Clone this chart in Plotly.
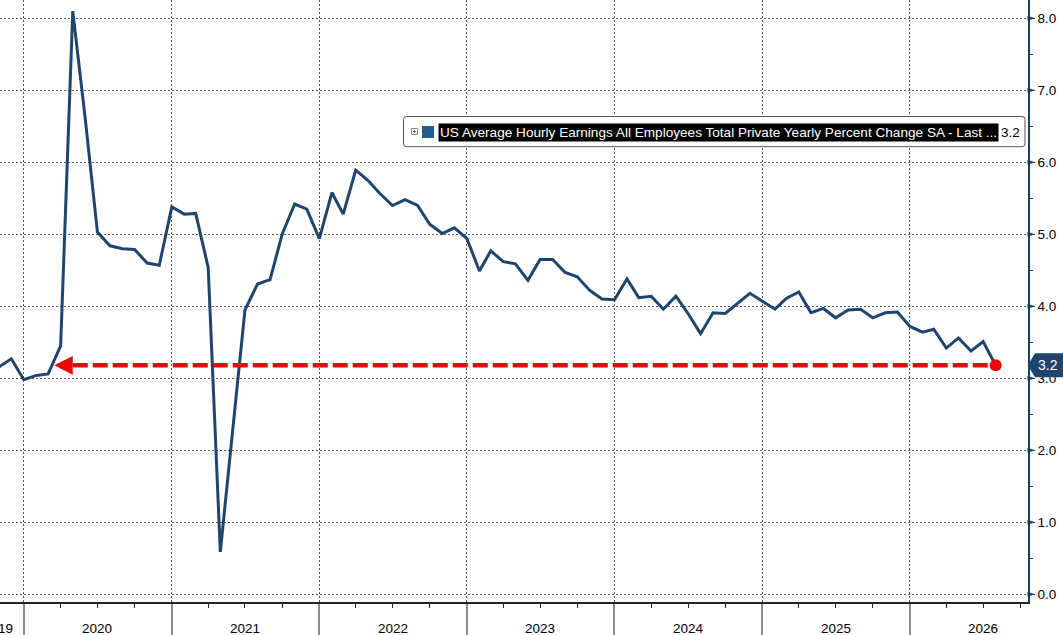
import plotly.graph_objects as go
import pandas as pd

# ---------------- data ----------------
start_month = "2019-11-01"
values = [
    3.16, 3.27,
    2.98, 3.04, 3.06, 3.45, 8.10, 6.60, 5.03, 4.84, 4.80, 4.79, 4.60, 4.57,
    5.38, 5.28, 5.29, 4.54, 0.59, 2.30, 3.95, 4.31, 4.37, 5.00, 5.42, 5.35,
    4.94, 5.58, 5.28, 5.89, 5.75, 5.56, 5.40, 5.48, 5.40, 5.14, 5.01, 5.09,
    4.94, 4.49, 4.77, 4.62, 4.59, 4.36, 4.65, 4.65, 4.47, 4.41, 4.22, 4.10,
    4.09, 4.38, 4.12, 4.14, 3.96, 4.14, 3.90, 3.62, 3.91, 3.90, 4.04, 4.18,
    4.07, 3.96, 4.11, 4.20, 3.91, 3.97, 3.84, 3.95, 3.96, 3.84, 3.91, 3.92,
    3.72, 3.64, 3.68, 3.42, 3.56, 3.38, 3.51, 3.18,
]
dates = pd.date_range(start_month, periods=len(values), freq="MS")
year_labels = ["2020", "2021", "2022", "2023", "2024", "2025", "2026"]
y_ticks = [0, 1, 2, 3, 4, 5, 6, 7, 8]
series_name = "US Average Hourly Earnings All Employees Total Private Yearly Percent Change SA - Last ..."
last_label = "3.2"
arrow_tip_date = "2020-03-16"
dash_start_date = "2020-05-01"

# ---------------- style ----------------
LINE_COLOR = "#1d456e"
RED = "#e8080b"
FONT = "Liberation Sans, Arial, sans-serif"
W, H = 1063, 635
ML, MR, MT, MB = 0, 35, 0, 33
PW, PH = W - ML - MR, H - MT - MB


def px(x):
    return (x - ML) / PW


def py(y):
    return 1 - (y - MT) / PH


last_val = values[-1]
last_date = dates[-1]

fig = go.Figure()

fig.add_trace(go.Scatter(
    x=dates, y=values, mode="lines",
    line=dict(color=LINE_COLOR, width=3), hoverinfo="skip", showlegend=False,
))

# red dashed reference line back to the arrow
fig.add_trace(go.Scatter(
    x=[pd.Timestamp(dash_start_date), last_date], y=[last_val, last_val], mode="lines",
    line=dict(color=RED, width=4.5, dash="15px,5px"), showlegend=False, hoverinfo="skip",
))
fig.add_trace(go.Scatter(
    x=[last_date], y=[last_val], mode="markers",
    marker=dict(color=RED, size=12), showlegend=False, hoverinfo="skip",
))

shapes = []
annotations = []

# arrow head (triangle) pointing left
h = 9.3 / 72
shapes.append(dict(
    type="path", xref="x", yref="y",
    path=f"M {arrow_tip_date},{last_val} L {dash_start_date},{last_val + h} "
         f"L {dash_start_date},{last_val - h} Z",
    fillcolor=RED, line=dict(width=0), layer="above",
))

# arrow-shaped major ticks on the right axis
for t in y_ticks:
    hh = 2.5 / 72
    shapes.append(dict(
        type="path", xref="paper", yref="y",
        path=f"M {px(1027.5)} {t + hh} L {px(1035)} {t} L {px(1027.5)} {t - hh} Z",
        fillcolor="#1c3f66", line=dict(width=0),
    ))

# last value tag on right axis
th = 12 / 72
shapes.append(dict(
    type="path", xref="paper", yref="y",
    path=f"M {px(1027.7)} {last_val} L {px(1035)} {last_val + th} L {px(1070)} {last_val + th} "
         f"L {px(1070)} {last_val - th} L {px(1035)} {last_val - th} Z",
    fillcolor="#1d456e", line=dict(width=0),
))
annotations.append(dict(
    xref="paper", yref="y", x=px(1035.5), y=last_val, xanchor="left", yanchor="middle",
    text=last_label, showarrow=False, font=dict(family=FONT, size=14, color="white"),
))

# legend box
x0, x1, y0, y1, r = 403.5, 1025, 116.5, 146.7, 3
shapes.append(dict(
    type="path", xref="paper", yref="paper",
    path=(f"M {px(x0 + r)} {py(y0)} L {px(x1 - r)} {py(y0)} Q {px(x1)} {py(y0)} {px(x1)} {py(y0 + r)} "
          f"L {px(x1)} {py(y1 - r)} Q {px(x1)} {py(y1)} {px(x1 - r)} {py(y1)} "
          f"L {px(x0 + r)} {py(y1)} Q {px(x0)} {py(y1)} {px(x0)} {py(y1 - r)} "
          f"L {px(x0)} {py(y0 + r)} Q {px(x0)} {py(y0)} {px(x0 + r)} {py(y0)} Z"),
    fillcolor="white", line=dict(color="#555555", width=1),
))
# expand icon
shapes.append(dict(type="rect", xref="paper", yref="paper",
                   x0=px(411.5), x1=px(417.5), y0=py(128.5), y1=py(134.5),
                   line=dict(color="#8a8a8a", width=1), fillcolor="white"))
shapes.append(dict(type="line", xref="paper", yref="paper",
                   x0=px(413), x1=px(416), y0=py(131.5), y1=py(131.5),
                   line=dict(color="#666666", width=1)))
shapes.append(dict(type="line", xref="paper", yref="paper",
                   x0=px(414.5), x1=px(414.5), y0=py(130), y1=py(133),
                   line=dict(color="#666666", width=1)))
# color swatch
shapes.append(dict(type="rect", xref="paper", yref="paper",
                   x0=px(422), x1=px(434), y0=py(126), y1=py(138),
                   fillcolor="#245a8e", line=dict(width=0)))
annotations.append(dict(
    xref="paper", yref="paper", x=px(437.5), y=py(132.5), xanchor="left", yanchor="middle",
    text=series_name, showarrow=False, bgcolor="black", borderpad=1,
    font=dict(family=FONT, size=13.6, color="white"),
))
annotations.append(dict(
    xref="paper", yref="paper", x=px(999), y=py(132.5), xanchor="left", yanchor="middle",
    text=last_label, showarrow=False, font=dict(family=FONT, size=13.5, color="black"),
))

# year labels
for yl in year_labels:
    annotations.append(dict(
        xref="x", yref="paper", x=f"{yl}-07-01", y=py(628), xanchor="center", yanchor="middle",
        text=yl, showarrow=False, font=dict(family=FONT, size=13.5, color="black"),
    ))
annotations.append(dict(
    xref="paper", yref="paper", x=px(14.5), y=py(628), xanchor="right", yanchor="middle",
    text=str(int(year_labels[0]) - 1), showarrow=False, font=dict(family=FONT, size=13.5, color="black"),
))

fig.update_layout(
    width=W, height=H,
    margin=dict(l=ML, r=MR, t=MT, b=MB, pad=0),
    paper_bgcolor="white", plot_bgcolor="white",
    showlegend=False,
    shapes=shapes, annotations=annotations,
    font=dict(family=FONT, size=13, color="black"),
)
fig.update_xaxes(
    range=["2019-11-03", "2026-10-20"],
    type="date", tick0="2020-01-01", dtick="M12",
    showticklabels=False,
    ticks="outside", ticklen=33, tickwidth=1.5, tickcolor="#8c8c8c",
    showgrid=True, gridcolor="#555555", griddash="2px,2px", gridwidth=1,
    showline=True, linecolor="#222222", linewidth=1.5,
    minor=dict(dtick="M3", tick0="2020-01-01", ticks="outside", ticklen=4, tickcolor="#222222",
               tickwidth=1, showgrid=False),
    zeroline=False,
)
fig.update_yaxes(
    range=[-0.107, 8.254], side="right",
    tickvals=y_ticks, tickformat=".1f",
    ticks="outside", ticklen=5, tickwidth=1, tickcolor="#1c3f66",
    tickfont=dict(family=FONT, size=13.5, color="black"),
    showgrid=True, gridcolor="#555555", griddash="2px,2px", gridwidth=1,
    showline=True, linecolor="#1c3f66", linewidth=1.5,
    minor=dict(dtick=0.5, ticks="outside", ticklen=3, tickcolor="#1c3f66", showgrid=False),
    zeroline=False,
)

fig.write_html(
    "out.html",
    config=dict(displayModeBar=False),
    post_script="document.body.style.margin='0';document.body.style.overflow='hidden';",
)
